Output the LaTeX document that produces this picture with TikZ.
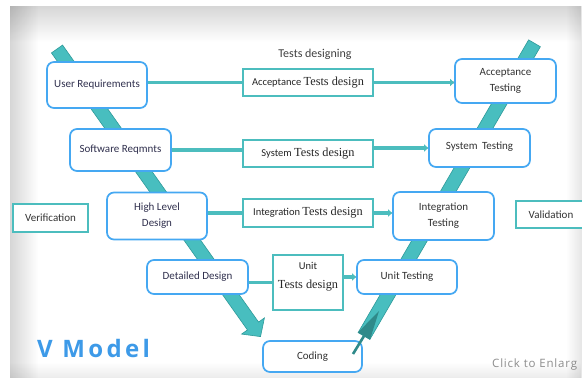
\documentclass[tikz,border=0pt]{standalone}
\usepackage{fontspec}
\setmainfont{Carlito}
\newfontfamily\serf{Liberation Serif}
\newfontfamily\osans[LetterSpace=14]{Open Sans}
\newfontfamily\osclick[LetterSpace=7]{Open Sans}
\usetikzlibrary{calc,fadings,arrows.meta}
\definecolor{vblue}{HTML}{45A8F2}
\definecolor{tealb}{HTML}{4CBDBE}
\definecolor{bandc}{HTML}{48BEBF}
\definecolor{bandd}{HTML}{2E9A9A}
\definecolor{darkt}{HTML}{2F8A8A}
\definecolor{lefttxt}{HTML}{30304E}
\definecolor{righttxt}{HTML}{333333}
\definecolor{modelblue}{HTML}{3D9AE8}
\begin{document}
\begin{tikzpicture}[x=1pt,y=-1pt,
 phase/.style={draw=vblue,line width=1.7pt,rounded corners=7pt,fill=white,align=center,inner sep=0pt,font=\fontsize{11}{16}\selectfont},
 lphase/.style={phase,text=lefttxt},
 rphase/.style={phase,text=righttxt},
 tbox/.style={draw=tealb,line width=1.6pt,fill=white,align=center,inner sep=0pt,text=black!85,font=\fontsize{10.5}{13}\selectfont},
 conn/.style={draw=tealb,line width=3.2pt},
 shad/.style={draw=black!45,line width=2.4pt,opacity=0.45,yshift=-2pt},
 arr/.style={-{Triangle[length=4pt,width=7pt]}},
 band/.style={fill=bandc,draw=bandd,line width=0.6pt}
]
\useasboundingbox (0,0) rectangle (582,378);
% background panel
\fill[white] (0,0) rectangle (582,378);
\fill[black,opacity=0.16,path fading=south] (10,6) rectangle (582,42);
\fill[black,opacity=0.16,path fading=east] (10,6) rectangle (38,378);
\fill[black,opacity=0.10,path fading=west] (566,6) rectangle (582,378);
\fill[black,opacity=0.08,path fading=north] (10,362) rectangle (582,378);

% left band (arrow down)
\coordinate (A) at (57,49);
\coordinate (B) at (253,326);
\path[band] ($(A)!6.8pt!90:(B)$) -- ($(B)!6.8pt!-90:(A)$) -- ($(B)!14pt!-90:(A)$)
  -- ($(B)!-13pt!(A)$) -- ($(B)!14pt!90:(A)$) -- ($(B)!6.8pt!90:(A)$)
  -- ($(A)!6.8pt!-90:(B)$) -- cycle;
% right band (up)
\coordinate (C) at (364,336);
\coordinate (D) at (534.5,43.3);
\path[band] ($(C)!6.8pt!90:(D)$) -- ($(D)!6.8pt!-90:(C)$) -- ($(D)!6.8pt!90:(C)$)
  -- ($(C)!6.8pt!-90:(D)$) -- cycle;

% title
\node[font=\fontsize{12}{14}\selectfont,text=black!75] (title) at (315,54) {Tests designing};

% left phases
\node[lphase,minimum width=100pt,minimum height=46pt] (ur) at (97,85) {User Requirements};
\node[lphase,minimum width=101pt,minimum height=42pt] (sr) at (120.5,150) {Software Reqmnts};
\node[lphase,minimum width=100pt,minimum height=47pt] (hld) at (157,216) {High Level\\Design};
\node[lphase,minimum width=101pt,minimum height=34pt] (dd) at (197.5,277) {Detailed Design};
\node[rphase,minimum width=99pt,minimum height=31pt] (cod) at (312.5,356.5) {Coding};
% right phases
\node[rphase,minimum width=100pt,minimum height=34pt] (ut) at (407,277) {Unit Testing};
\node[rphase,minimum width=101pt,minimum height=48pt] (it) at (443.5,216) {Integration\\Testing};
\node[rphase,minimum width=101pt,minimum height=38pt] (st) at (479.5,148) {\raisebox{5pt}{System\, Testing}};
\node[rphase,minimum width=101pt,minimum height=44pt] (at) at (505.5,81) {Acceptance\\Testing};

% test design boxes
\node[tbox,minimum width=130pt,minimum height=27pt] (atd) at (308,82.5) {Acceptance {\serf\fontsize{12.3}{13}\selectfont Tests design}};
\node[tbox,minimum width=130pt,minimum height=27pt] (std) at (308,153.5) {System {\serf\fontsize{12.3}{13}\selectfont Tests design}};
\node[tbox,minimum width=130pt,minimum height=28pt] (itd) at (308,213) {Integration {\serf\fontsize{12.3}{13}\selectfont Tests design}};
\node[tbox,minimum width=70pt,minimum height=55pt] (utd) at (308,282.5) {};
\node[align=center,inner sep=0pt,text=black!85,font=\fontsize{10.5}{19}\selectfont] (utdt) at (308,277) {Unit\\{\serf\fontsize{12.3}{13}\selectfont Tests design}};

\node[tbox,minimum width=75pt,minimum height=28pt,text=righttxt,font=\fontsize{11}{13}\selectfont] (ver) at (50.5,218) {Verification};
\node[tbox,minimum width=70pt,minimum height=27pt,text=righttxt,font=\fontsize{11}{13}\selectfont] (val) at (551,214.5) {Validation};

% connectors: shadows
\draw[shad] (ur.east |- atd.west) -- (atd.west);
\draw[shad] (atd.east) -- (atd.east -| at.west);
\draw[shad] (sr.east) -- (sr.east -| std.west);
\draw[shad] (std.east |- st.west) -- (st.west);
\draw[shad] (hld.east |- itd.west) -- (itd.west);
\draw[shad] (itd.east) -- (itd.east -| it.west);
\draw[shad] (dd.east |- utd.west) -- (utd.west);
\draw[shad] (utd.east |- ut.west) -- (ut.west);
% connectors
\draw[conn] (ur.east |- atd.west) -- (atd.west);
\draw[conn,arr] (atd.east) -- (atd.east -| at.west);
\draw[conn] (sr.east) -- (sr.east -| std.west);
\draw[conn,arr] (std.east |- st.west) -- (st.west);
\draw[conn] (hld.east |- itd.west) -- (itd.west);
\draw[conn,arr] (itd.east) -- (itd.east -| it.west);
\draw[conn] (dd.east |- utd.west) -- (utd.west);
\draw[conn,arr] (utd.east |- ut.west) -- (ut.west);

% dark arrow at bottom of right band
\coordinate (E) at (353,354);
\coordinate (G) at (379,311);
\draw[darkt,line width=2.6pt] (E) -- (C);
\fill[darkt] ($(C)!7pt!90:(G)$) -- (G) -- ($(C)!7pt!-90:(G)$) -- cycle;

% labels
\node[text=modelblue,font=\osans\bfseries\fontsize{24}{26}\selectfont,anchor=west,inner sep=0pt] (vm) at (37,348) {V Model};
\node[text=black!45,font=\osclick\fontsize{11.5}{13}\selectfont,anchor=west,inner sep=0pt] (click) at (492,365) {Click to Enlarg};
\end{tikzpicture}
\end{document}
